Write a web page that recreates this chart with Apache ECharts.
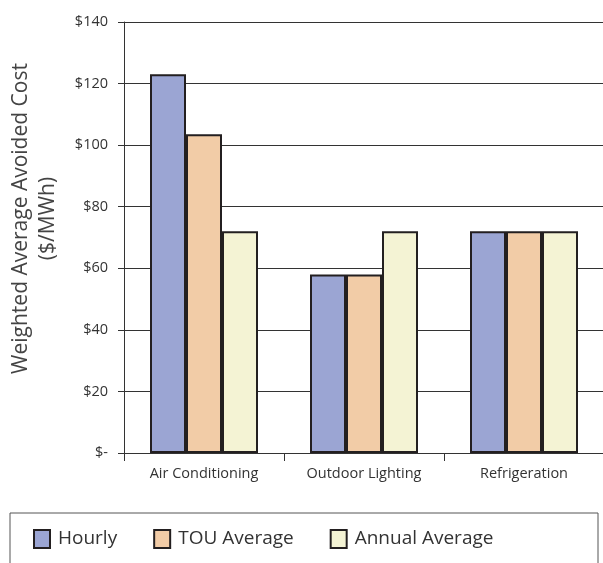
<!DOCTYPE html>
<html>
<head>
<meta charset="utf-8">
<script src="https://cdn.jsdelivr.net/npm/echarts@6/dist/echarts.min.js"></script>
<style>
  html, body { margin: 0; padding: 0; background: #fff; }
  #chart { width: 603px; height: 563px; }
</style>
</head>
<body>
<div id="chart"></div>
<script>
// categories and values ($/MWh)
const categories = ['Air Conditioning', 'Outdoor Lighting', 'Refrigeration']
const hourly = [123, 58, 72]
const touAverage = [103.5, 58, 72]
const annualAverage = [72, 72, 72]
const yTicks = [0, 20, 40, 60, 80, 100, 120, 140]

const font = 'Open Sans'
const chart = echarts.init(document.getElementById('chart'))

const barStyle = (color) => ({
  color: color,
  borderColor: '#231f20',
  borderWidth: 2
})

const option = {
  backgroundColor: '#fff',
  animation: false,
  textStyle: { fontFamily: font },
  grid: { left: 124, right: -1, top: 22, bottom: 110, outerBoundsMode: 'none', containLabel: false },
  graphic: [
    {
      type: 'rect',
      shape: { x: 10, y: 513, width: 588, height: 60 },
      style: { fill: 'none', stroke: '#555', lineWidth: 1 }
    }
  ],
  legend: {
    left: 33,
    top: 529,
    padding: 0,
    icon: 'rect',
    itemWidth: 16,
    itemHeight: 18,
    itemGap: 36,
    itemStyle: { borderColor: '#231f20', borderWidth: 2 },
    textStyle: { fontSize: 19, color: '#333', fontFamily: font, padding: [0, 0, 0, 3] },
    data: ['Hourly', 'TOU Average', 'Annual Average']
  },
  xAxis: {
    type: 'category',
    data: categories,
    axisLine: { lineStyle: { color: '#333', width: 1 } },
    axisTick: { show: true, length: 8, lineStyle: { color: '#333' } },
    axisLabel: { fontSize: 14.5, color: '#333', margin: 13, fontFamily: font }
  },
  yAxis: {
    type: 'value',
    min: yTicks[0],
    max: yTicks[yTicks.length - 1],
    interval: 20,
    name: 'Weighted Average Avoided Cost\n($/MWh)',
    nameLocation: 'middle',
    nameGap: 62,
    nameTextStyle: {
      fontSize: 21,
      color: '#444',
      lineHeight: 27,
      fontFamily: font,
      padding: [0, 0, 0, 38]
    },
    axisLine: { show: true, lineStyle: { color: '#333', width: 1 } },
    axisTick: { show: true, length: 6, lineStyle: { color: '#333' } },
    splitLine: { show: true, lineStyle: { color: '#333', width: 1 } },
    axisLabel: {
      fontSize: 14.5,
      color: '#333',
      margin: 16,
      fontFamily: font,
      formatter: (v) => (v === 0 ? '$-' : '$' + v)
    }
  },
  series: [
    {
      name: 'Hourly',
      type: 'bar',
      data: hourly,
      barWidth: 36,
      barGap: '0%',
      itemStyle: barStyle('#9ba5d3')
    },
    {
      name: 'TOU Average',
      type: 'bar',
      data: touAverage,
      barWidth: 36,
      barGap: '0%',
      itemStyle: barStyle('#f2cca7')
    },
    {
      name: 'Annual Average',
      type: 'bar',
      data: annualAverage,
      barWidth: 36,
      barGap: '0%',
      itemStyle: barStyle('#f4f3d4')
    }
  ]
}

chart.setOption(option)
</script>
</body>
</html>
